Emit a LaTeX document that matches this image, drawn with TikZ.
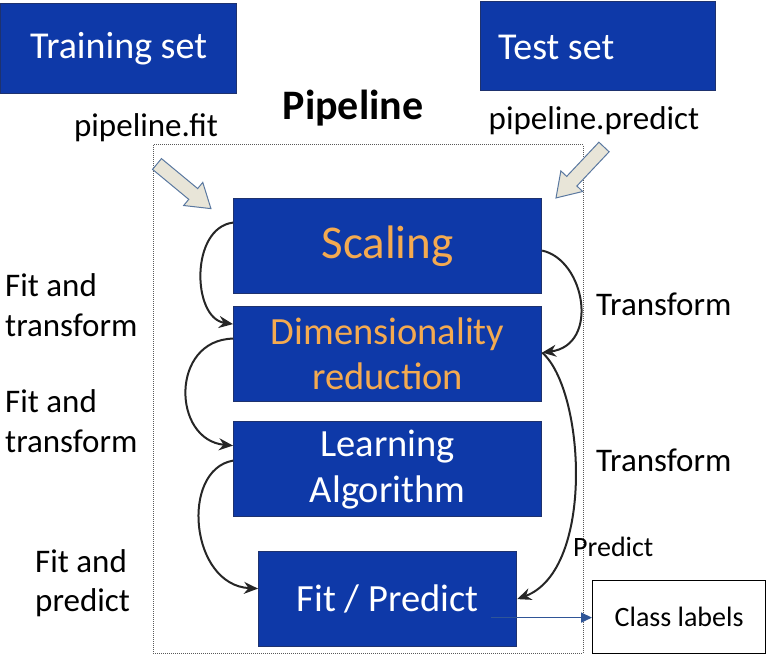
\documentclass[tikz,border=0pt]{standalone}
\usepackage{fontspec}
\setmainfont{Carlito}
\usetikzlibrary{arrows.meta}
\definecolor{boxblue}{RGB}{14,57,168}
\definecolor{boxedge}{RGB}{30,50,110}
\definecolor{orangetxt}{RGB}{244,170,80}
\definecolor{fatfill}{RGB}{232,229,216}
\definecolor{fatedge}{RGB}{90,120,160}
\definecolor{linkblue}{RGB}{47,85,151}
\begin{document}
\begin{tikzpicture}[x=1pt,y=-1pt,
  bluebox/.style={draw=boxedge,line width=1.2pt,fill=boxblue,minimum width=#1,inner sep=0pt,align=center},
  lbl/.style={align=left,anchor=west,font=\fontsize{33}{40}\selectfont,inner sep=0pt},
  flow/.style={-{Stealth[length=14pt,width=12pt]},line width=2pt,black!85},
  fat/.style={draw=fatedge,fill=fatfill,line width=1pt}]
\useasboundingbox (0,0) rectangle (767,655);
% top boxes
\node[bluebox=236pt,minimum height=90pt,anchor=north west,font=\fontsize{38}{44}\selectfont,text=white] (train) at (0,3) {Training set};
\node[draw=boxedge,line width=1.2pt,fill=boxblue,minimum width=235pt,minimum height=89pt,anchor=north west,inner sep=0pt] (test) at (480,1) {};
\node[font=\fontsize{38}{44}\selectfont,text=white,anchor=west,inner sep=0pt] (testt) at (498,47) {Test set};
\node[font=\bfseries\fontsize{42}{48}\selectfont] (pipe) at (353,108) {Pipeline};
\node[font=\fontsize{33}{38}\selectfont] (fit) at (146,128) {pipeline.fit};
\node[font=\fontsize{33}{38}\selectfont] (pred) at (594,121) {pipeline.predict};
% dotted frame
\draw[densely dotted,gray!70!black,line width=1pt] (153,145) rectangle (583,653);
% fat arrows
\begin{scope}[shift={(157,164)},rotate=-39.6]
\draw[fat] (0,-7) -- (47,-7) -- (47,-15) -- (70,0) -- (47,15) -- (47,7) -- (0,7) -- cycle;
\end{scope}
\begin{scope}[shift={(604,147)},rotate=-133.3]
\draw[fat] (0,-7) -- (47,-7) -- (47,-15) -- (70,0) -- (47,15) -- (47,7) -- (0,7) -- cycle;
\end{scope}
% pipeline boxes
\node[bluebox=308pt,minimum height=95pt,anchor=north west,text=orangetxt,font=\fontsize{47}{52}\selectfont] (scal) at (233,198) {Scaling};
\node[bluebox=308pt,minimum height=95pt,anchor=north west,text=orangetxt,font=\fontsize{38.5}{45}\selectfont] (dim) at (233,306) {Dimensionality\\reduction};
\node[bluebox=308pt,minimum height=95pt,anchor=north west,text=white,font=\fontsize{38.5}{46}\selectfont] (learn) at (233,421) {Learning\\Algorithm};
\node[bluebox=258pt,minimum height=95pt,anchor=north west,text=white,font=\fontsize{38.5}{44}\selectfont] (fp) at (258,551) {Fit / Predict};
\node[draw=black,line width=1.2pt,minimum width=173pt,minimum height=73pt,anchor=north west,inner sep=0pt,font=\fontsize{28}{32}\selectfont] (cls) at (592,580) {Class labels};
% side labels
\node[lbl] (l1) at (5,305) {Fit and\\transform};
\node[lbl] (l2) at (5,421) {Fit and\\transform};
\node[lbl,font=\fontsize{33}{39}\selectfont] (l3) at (35,583) {Fit and\\predict};
\node[lbl] (t1) at (596,304) {Transform};
\node[lbl] (t2) at (596,460) {Transform};
\node[lbl,font=\fontsize{28}{32}\selectfont] (p1) at (573,547) {Predict};
% coordinates (yshift is in page direction: positive = up)
\coordinate (s1) at ([yshift=23.5pt]scal.west);
\coordinate (d1) at ([yshift=30pt]dim.west);
\coordinate (d2) at ([yshift=15.5pt]dim.west);
\coordinate (le1) at ([yshift=23.5pt]learn.west);
\coordinate (le2) at ([yshift=8.5pt]learn.west);
\coordinate (f1) at ([yshift=10.5pt]fp.west);
\coordinate (s2) at ([yshift=-4.5pt]scal.east);
\coordinate (d3) at ([yshift=1.5pt]dim.east);
\coordinate (f2) at (fp.east);
\coordinate (fpo) at ([xshift=-26pt,yshift=-18.5pt]fp.east);
% left flows
\draw[flow] (s1) .. controls (190,228) and (192,318) .. (d1);
\draw[flow] (d2) .. controls (170,340) and (172,440) .. (le1);
\draw[flow] (le2) .. controls (180,470) and (190,585) .. (f1);
% right flows
\draw[flow] (s2) .. controls (585,260) and (600,345) .. (d3);
\draw[flow] (d3) .. controls (585,390) and (595,570) .. (f2);
% output
\draw[-{Triangle[length=11pt,width=10pt]},linkblue,line width=1.6pt] (fpo) -- (cls.west|-fpo);
\end{tikzpicture}
\end{document}
